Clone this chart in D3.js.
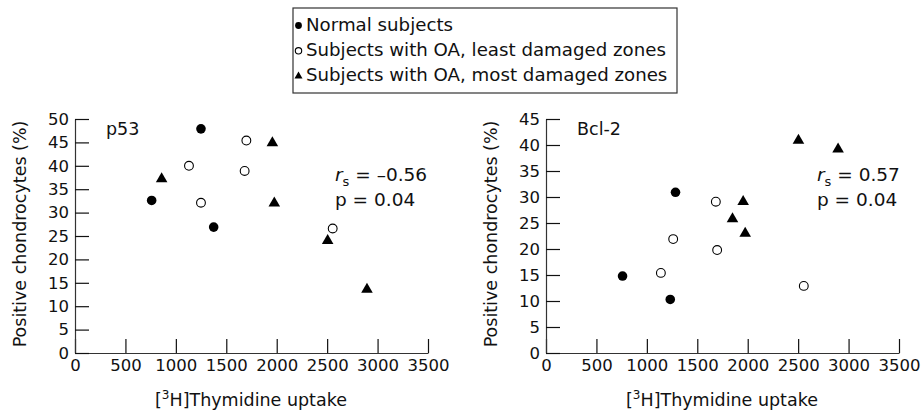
<!DOCTYPE html>
<html>
<head>
<meta charset="utf-8">
<script src="https://cdn.jsdelivr.net/npm/d3@7"></script>
<style>
  body { margin: 0; background: #fff; }
  svg text { font-family: "DejaVu Sans", sans-serif; fill: #111; }
</style>
</head>
<body>
<svg id="chart" width="923" height="412"></svg>
<script>
// group names, in legend order
var groups = ["Normal subjects", "Subjects with OA, least damaged zones", "Subjects with OA, most damaged zones"];
var groupKeys = ["normal", "least", "most"];

// p53 panel: thymidine uptake vs positive chondrocytes (%)
var p53Group = ["normal","normal","normal","least","least","least","least","least","most","most","most","most","most"];
var p53Uptake = [760, 1249, 1375, 1130, 1249, 1699, 1682, 2555, 859, 1957, 1976, 2505, 2895];
var p53Pos = [32.6, 47.9, 26.9, 40.0, 32.1, 45.4, 38.9, 26.6, 37.2, 44.9, 32.0, 24.0, 13.6];

// Bcl-2 panel
var bclGroup = ["normal","normal","normal","least","least","least","least","least","most","most","most","most","most"];
var bclUptake = [759, 1284, 1232, 1139, 1261, 1684, 1697, 2556, 1849, 1955, 1975, 2503, 2896];
var bclPos = [14.8, 30.9, 10.3, 15.4, 21.9, 29.1, 19.8, 12.9, 25.8, 29.1, 23.0, 40.9, 39.2];

var xTicks = [0, 500, 1000, 1500, 2000, 2500, 3000, 3500];
var p53Ticks = [0, 5, 10, 15, 20, 25, 30, 35, 40, 45, 50];
var bclTicks = [0, 5, 10, 15, 20, 25, 30, 35, 40, 45];

var svg = d3.select("#chart");

function drawMarker(g, key, x, y, small) {
  if (key == "normal") {
    g.append("circle").attr("cx", x).attr("cy", y).attr("r", small ? 3.4 : 4.8)
      .attr("fill", "#000");
  } else if (key == "least") {
    g.append("circle").attr("cx", x).attr("cy", y).attr("r", small ? 3.2 : 4.4)
      .attr("fill", "#fff").attr("stroke", "#000").attr("stroke-width", 1.1);
  } else {
    g.append("path")
      .attr("d", d3.symbol(d3.symbolTriangle, small ? 28 : 58)())
      .attr("transform", "translate(" + x + "," + y + ")")
      .attr("fill", "#000");
  }
}

function panel(opts) {
  var x = d3.scaleLinear().domain([0, 3500]).range([opts.left, opts.left + 353]);
  var y = d3.scaleLinear().domain([0, opts.ymax]).range([353, 119]);
  var g = svg.append("g");

  g.append("g")
    .attr("transform", "translate(0,353)")
    .call(d3.axisBottom(x).tickValues(xTicks).tickFormat(d3.format("d"))
      .tickSize(-14).tickSizeOuter(0).tickPadding(6));
  g.append("g")
    .attr("transform", "translate(" + opts.left + ",0)")
    .call(d3.axisLeft(y).tickValues(opts.ticks).tickFormat(d3.format("d"))
      .tickSize(-14).tickSizeOuter(0).tickPadding(6));
  g.selectAll(".domain").attr("stroke", "#333").attr("stroke-width", 1.2);
  g.selectAll(".tick line").attr("stroke", "#111").attr("stroke-width", 1.2);
  g.selectAll(".tick text").style("font-size", "16.5px").style("font-family", "DejaVu Sans").attr("fill", "#111");

  // axis titles
  g.append("text")
    .attr("transform", "translate(" + (opts.left - 49) + ",234) rotate(-90)")
    .attr("text-anchor", "middle")
    .style("font-size", "17.5px")
    .text("Positive chondrocytes (%)");
  var xt = g.append("text")
    .attr("x", opts.left + 176).attr("y", 406)
    .attr("text-anchor", "middle")
    .style("font-size", "17.5px");
  xt.append("tspan").text("[");
  xt.append("tspan").attr("dy", -7).style("font-size", "12px").text("3");
  xt.append("tspan").attr("dy", 7).text("H]Thymidine uptake");

  // panel label
  g.append("text").attr("x", opts.labelX).attr("y", 135)
    .style("font-size", "17.5px").text(opts.label);

  // stats
  var st = g.append("text").attr("x", opts.statX).attr("y", 181).style("font-size", "18.5px");
  st.append("tspan").style("font-style", "italic").text("r");
  st.append("tspan").attr("dy", 5).style("font-size", "13px").text("s");
  st.append("tspan").attr("dy", -5).text(" = " + opts.rs);
  g.append("text").attr("x", opts.statX).attr("y", 206).style("font-size", "18.5px")
    .text("p = 0.04");

  // points
  var pts = g.append("g");
  opts.xs.forEach(function(v, i) {
    drawMarker(pts, opts.grp[i], x(v), y(opts.ys[i]), false);
  });
}

panel({ left: 75, ymax: 50, ticks: p53Ticks, label: "p53", labelX: 106,
  statX: 335, rs: "\u20130.56", xs: p53Uptake, ys: p53Pos, grp: p53Group });
panel({ left: 546, ymax: 45, ticks: bclTicks, label: "Bcl-2", labelX: 577,
  statX: 817, rs: "0.57", xs: bclUptake, ys: bclPos, grp: bclGroup });

// legend
var leg = svg.append("g");
leg.append("rect").attr("x", 293).attr("y", 8).attr("width", 384).attr("height", 85)
  .attr("fill", "none").attr("stroke", "#333").attr("stroke-width", 1.2);
groups.forEach(function(name, i) {
  var by = 30.5 + i * 25.3;
  drawMarker(leg, groupKeys[i], 298.5, by - 5, true);
  leg.append("text").attr("x", 306).attr("y", by).style("font-size", "18.2px").text(name);
});
</script>
</body>
</html>
